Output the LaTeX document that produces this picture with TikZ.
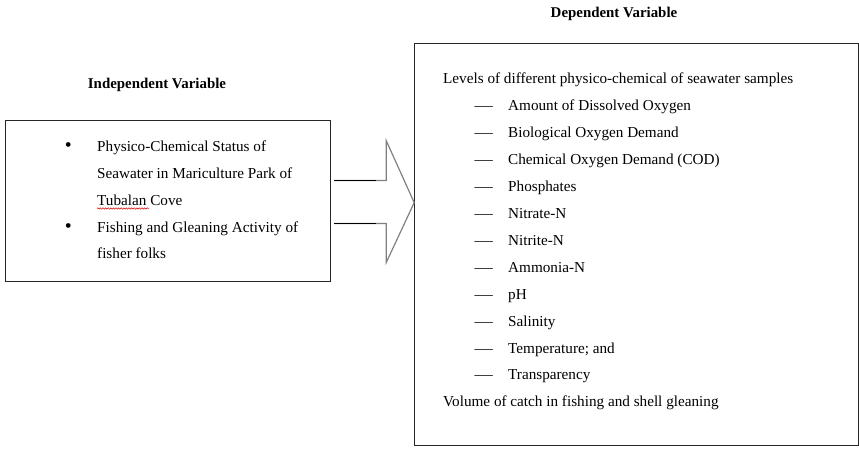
\documentclass[tikz,border=0pt]{standalone}
\usepackage{fontspec}
\setmainfont{Liberation Serif}
\usetikzlibrary{positioning, decorations.pathmorphing}

\begin{document}
\begin{tikzpicture}[
  x=1pt, y=-1pt,
  every node/.style={font=\fontsize{15.2}{18}\selectfont, inner sep=0pt},
  varbox/.style={draw=black!85, line width=1.2pt, anchor=north west},
  title/.style={font=\fontsize{14.9}{18}\selectfont\bfseries, anchor=base},
  item/.style={anchor=base west},
  listmark/.style={anchor=base east},
  blockarrow/.style={draw=black!50, line width=1.2pt},
  shaft/.style={draw=black, line width=1pt},
  squiggle/.style={draw=red!85!black, line width=0.5pt, decorate,
    decoration={snake, amplitude=0.7pt, segment length=2.6pt}}
]
  \useasboundingbox (0,0) rectangle (859,454);

  % Riquadri delle variabili
  \node[varbox, minimum width=325pt, minimum height=161pt] (indep) at (5,120) {};
  \node[varbox, minimum width=444pt, minimum height=402pt] (dep) at (414,43) {};

  % Titoli
  \node[title] (indeptitle) at (157,89) {Independent Variable};
  \node[title] (deptitle) at (614,18) {Dependent Variable};

  % Variabile indipendente
  \node[item] (l1) at (97,152) {Physico-Chemical Status of};
  \node[item, below=26.75pt of l1.base west, anchor=base west] (l2) {Seawater in Mariculture Park of};
  \node[item, below=26.75pt of l2.base west, anchor=base west] (l3) {Tubalan Cove};
  \node[item, below=26.75pt of l3.base west, anchor=base west] (l4) {Fishing and Gleaning Activity of};
  \node[item, below=26.75pt of l4.base west, anchor=base west] (l5) {fisher folks};
  \node[listmark, left=25pt of l1.base west, anchor=base east] (b1) {\scalebox{1.3}{\textbullet}};
  \node[listmark, left=25pt of l4.base west, anchor=base east] (b2) {\scalebox{1.3}{\textbullet}};
  \draw[squiggle] ([yshift=-3pt]l3.base west) -- ++(52,0);

  % Variabile dipendente
  \node[item] (levels) at (443,84) {Levels of different physico-chemical of seawater samples};
  \node[item, below=26.9pt of levels.base west, anchor=base west, xshift=65pt] (d1) {Amount of Dissolved Oxygen};
  \node[item, below=26.9pt of d1.base west, anchor=base west] (d2) {Biological Oxygen Demand};
  \node[item, below=26.9pt of d2.base west, anchor=base west] (d3) {Chemical Oxygen Demand (COD)};
  \node[item, below=26.9pt of d3.base west, anchor=base west] (d4) {Phosphates};
  \node[item, below=26.9pt of d4.base west, anchor=base west] (d5) {Nitrate-N};
  \node[item, below=26.9pt of d5.base west, anchor=base west] (d6) {Nitrite-N};
  \node[item, below=26.9pt of d6.base west, anchor=base west] (d7) {Ammonia-N};
  \node[item, below=26.9pt of d7.base west, anchor=base west] (d8) {pH};
  \node[item, below=26.9pt of d8.base west, anchor=base west] (d9) {Salinity};
  \node[item, below=26.9pt of d9.base west, anchor=base west] (d10) {Temperature; and};
  \node[item, below=26.9pt of d10.base west, anchor=base west] (d11) {Transparency};
  \node[item, below=26.9pt of d11.base west, anchor=base west, xshift=-65pt] (volume) {Volume of catch in fishing and shell gleaning};
  \foreach \i in {1,...,11}
    \node[listmark, left=15pt of d\i.base west, anchor=base east] (dash\i) {\scalebox{1.2}[1]{---}};

  % Freccia a blocco tra i riquadri
  \draw[blockarrow] ([xshift=3pt, yshift=20.5pt]indep.east) -- ++(52,0) -- ++(0,-40)
    -- ++(28,62) -- ++(-28,60) -- ++(0,-39) -- ++(-52,0);
  \draw[shaft] ([xshift=3pt, yshift=20.5pt]indep.east) -- ++(42,0);
  \draw[shaft, line width=1.8pt] ([xshift=3pt, yshift=-22.5pt]indep.east) -- ++(42,0);

\end{tikzpicture}
\end{document}
